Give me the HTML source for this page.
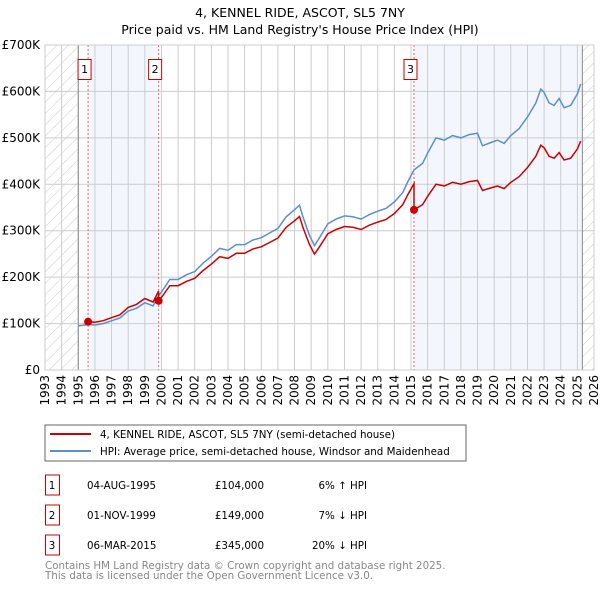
<!DOCTYPE html>
<html><head><meta charset="utf-8"><style>
body{margin:0;background:#fff;}
svg text{font-family:"DejaVu Sans","Liberation Sans",sans-serif;}
</style></head><body>
<svg width="600" height="590" xmlns="http://www.w3.org/2000/svg">
<defs><pattern id="hatch" width="8" height="8" patternUnits="userSpaceOnUse" patternTransform="rotate(45)"><line x1="0" y1="0" x2="0" y2="8" stroke="#ccc" stroke-width="1"/></pattern></defs>
<text x="300" y="17" text-anchor="middle" font-size="12.5">4, KENNEL RIDE, ASCOT, SL5 7NY</text>
<text x="300" y="34" text-anchor="middle" font-size="12.5">Price paid vs. HM Land Registry's House Price Index (HPI)</text>
<g id="plot"></g>
<rect x="45" y="425" width="421" height="36" fill="#fff" stroke="#666"/>
<line x1="50" y1="434" x2="91" y2="434" stroke="#cc0000" stroke-width="2"/>
<text x="100" y="438" font-size="10.3">4, KENNEL RIDE, ASCOT, SL5 7NY (semi-detached house)</text>
<line x1="50" y1="451" x2="91" y2="451" stroke="#5b8fd0" stroke-width="2"/>
<text x="100" y="455" font-size="10.3">HPI: Average price, semi-detached house, Windsor and Maidenhead</text>
<g id="table" font-size="10.3"></g>
<text x="45" y="569" font-size="10.3" fill="#888">Contains HM Land Registry data © Crown copyright and database right 2025.</text>
<text x="45" y="579" font-size="10.3" fill="#888">This data is licensed under the Open Government Licence v3.0.</text>
</svg>
<script>
const hpiYears=[1995.0,1995.6,1996.0,1996.5,1997.0,1997.5,1998.0,1998.5,1999.0,1999.5,1999.83,2000.0,2000.5,2001.0,2001.5,2002.0,2002.5,2003.0,2003.5,2004.0,2004.5,2005.0,2005.5,2006.0,2006.5,2007.0,2007.5,2008.0,2008.3,2008.5,2008.9,2009.2,2009.5,2010.0,2010.5,2011.0,2011.5,2012.0,2012.5,2013.0,2013.5,2014.0,2014.5,2014.8,2015.18,2015.7,2016.0,2016.5,2017.0,2017.5,2018.0,2018.5,2019.0,2019.3,2019.8,2020.2,2020.6,2021.0,2021.5,2022.0,2022.5,2022.8,2023.0,2023.3,2023.6,2023.9,2024.2,2024.6,2025.0,2025.2];
const hpiValues=[95,98,97,100,106,112,127,133,145,138,160,168,195,195,205,212,230,245,262,258,270,270,280,285,295,305,330,345,355,330,290,268,285,315,325,332,330,325,335,342,348,362,382,405,431,445,467,500,495,505,500,507,510,483,490,495,488,505,520,545,575,605,598,575,570,585,565,570,595,616];
const saleYears=[1995.59,1999.83,2015.18];
const salePrices=[104,149,345];
const saleDates=["04-AUG-1995","01-NOV-1999","06-MAR-2015"];
const salePriceLabels=["£104,000","£149,000","£345,000"];
const saleDiffs=["6% ↑ HPI","7% ↓ HPI","20% ↓ HPI"];
const yTicks=[0,100,200,300,400,500,600,700];
const yTickLabels=["£0","£100K","£200K","£300K","£400K","£500K","£600K","£700K"];
const xStart=1993,xEnd=2026,dataEnd=2025.3;

const NS="http://www.w3.org/2000/svg";
const L=45,R=594,T=45,B=370;
const X=y=>L+(y-xStart)/(xEnd-xStart)*(R-L);
const Y=v=>B-v/700*(B-T);
function mk(tag,attrs,parent){const e=document.createElementNS(NS,tag);for(const k in attrs)e.setAttribute(k,attrs[k]);parent.appendChild(e);return e;}
const g=document.getElementById('plot');
function hpiAt(t){for(let i=0;i<hpiYears.length-1;i++){if(t<=hpiYears[i+1]){const f=(t-hpiYears[i])/(hpiYears[i+1]-hpiYears[i]);return hpiValues[i]+f*(hpiValues[i+1]-hpiValues[i]);}}return hpiValues[hpiValues.length-1];}
let r;
r=mk('rect',{x:X(saleYears[0]),y:T,width:X(saleYears[1])-X(saleYears[0]),height:B-T,fill:'#eef3fc',opacity:0.7},g);


r=mk('rect',{x:X(saleYears[2]),y:T,width:X(dataEnd)-X(saleYears[2]),height:B-T,fill:'#eef3fc',opacity:0.7},g);


r=mk('rect',{x:L,y:T,width:X(hpiYears[0])-L,height:B-T,fill:'url(#hatch)'},g);


r=mk('rect',{x:X(dataEnd),y:T,width:R-X(dataEnd),height:B-T,fill:'url(#hatch)'},g);


for(let yr=xStart;yr<=xEnd;yr++){
 const l=mk('line',{x1:X(yr),x2:X(yr),y1:T,y2:B,stroke:'#ccc','stroke-width':1},g);
 
 
 const t=mk('text',{x:0,y:0,'font-size':12,'text-anchor':'end',transform:`translate(${X(yr)+4},${B+5}) rotate(-90)`},g);
 
 
 t.textContent=yr;
}
yTicks.forEach((v,i)=>{
 const l=mk('line',{x1:L,x2:R,y1:Y(v),y2:Y(v),stroke:'#ccc','stroke-width':1},g);
 
 
 const t=mk('text',{x:40,y:Y(v)+4,'font-size':12,'text-anchor':'end'},g);
 
 
 t.textContent=yTickLabels[i];
});
[hpiYears[0],dataEnd].forEach(yr=>{
 const l=mk('line',{x1:X(yr),x2:X(yr),y1:T,y2:B,stroke:'#888','stroke-width':1},g);
 
 
});
saleYears.forEach((s,i)=>{
 const l=mk('line',{x1:X(s),x2:X(s),y1:T,y2:B,stroke:'#f06060','stroke-width':1,'stroke-dasharray':'2,2'},g);
 
 
 const bx=mk('rect',{x:X(s)-10,y:59.5,width:13,height:20,fill:'#fff',stroke:'#cc0000'},g);
 
 
 const t=mk('text',{x:X(s)-3.5,y:73,'font-size':11,'text-anchor':'middle'},g);
 
 
 t.textContent=i+1;
});
let d=hpiYears.map((t,i)=>(i?'L':'M')+X(t).toFixed(1)+','+Y(hpiValues[i]).toFixed(1)).join('');
const hp=mk('path',{d:d,fill:'none',stroke:'#5b8fd0','stroke-width':1.5},g);


let pts=[];
for(let k=0;k<saleYears.length;k++){
 const s=saleYears[k],e=k+1<saleYears.length?saleYears[k+1]:hpiYears[hpiYears.length-1];
 const base=hpiAt(s);
 const ts=[s].concat(hpiYears.filter(t=>t>s&&t<e)).concat([e]);
 ts.forEach((t,j)=>{if(k+1<saleYears.length&&j==ts.length-1)t=e-0.001;pts.push([t,salePrices[k]*hpiAt(t)/base]);});
}
d=pts.map((p,i)=>(i?'L':'M')+X(p[0]).toFixed(1)+','+Y(p[1]).toFixed(1)).join('');
const pp=mk('path',{d:d,fill:'none',stroke:'#cc0000','stroke-width':1.5},g);


saleYears.forEach((s,i)=>{
 const c=mk('circle',{cx:X(s),cy:Y(salePrices[i]),r:4,fill:'#cc0000'},g);
 
 
});
const ax=mk('rect',{x:L,y:T,width:R-L,height:B-T,fill:'none',stroke:'#ccc'},g);


const tb=document.getElementById('table');
saleYears.forEach((s,i)=>{
 const yy=475+i*30;
 const b=mk('rect',{x:45.5,y:yy,width:14,height:20,fill:'#fff',stroke:'#cc0000'},tb);
 
 
 const items=[[52,'middle',String(i+1)],[87,'start',saleDates[i]],[264,'end',salePriceLabels[i]],[367,'end',saleDiffs[i]]];
 items.forEach(it=>{
  const t=mk('text',{x:it[0],y:yy+14,'text-anchor':it[1]},tb);
  
  
  t.textContent=it[2];
 });
});
</script>
</body></html>
